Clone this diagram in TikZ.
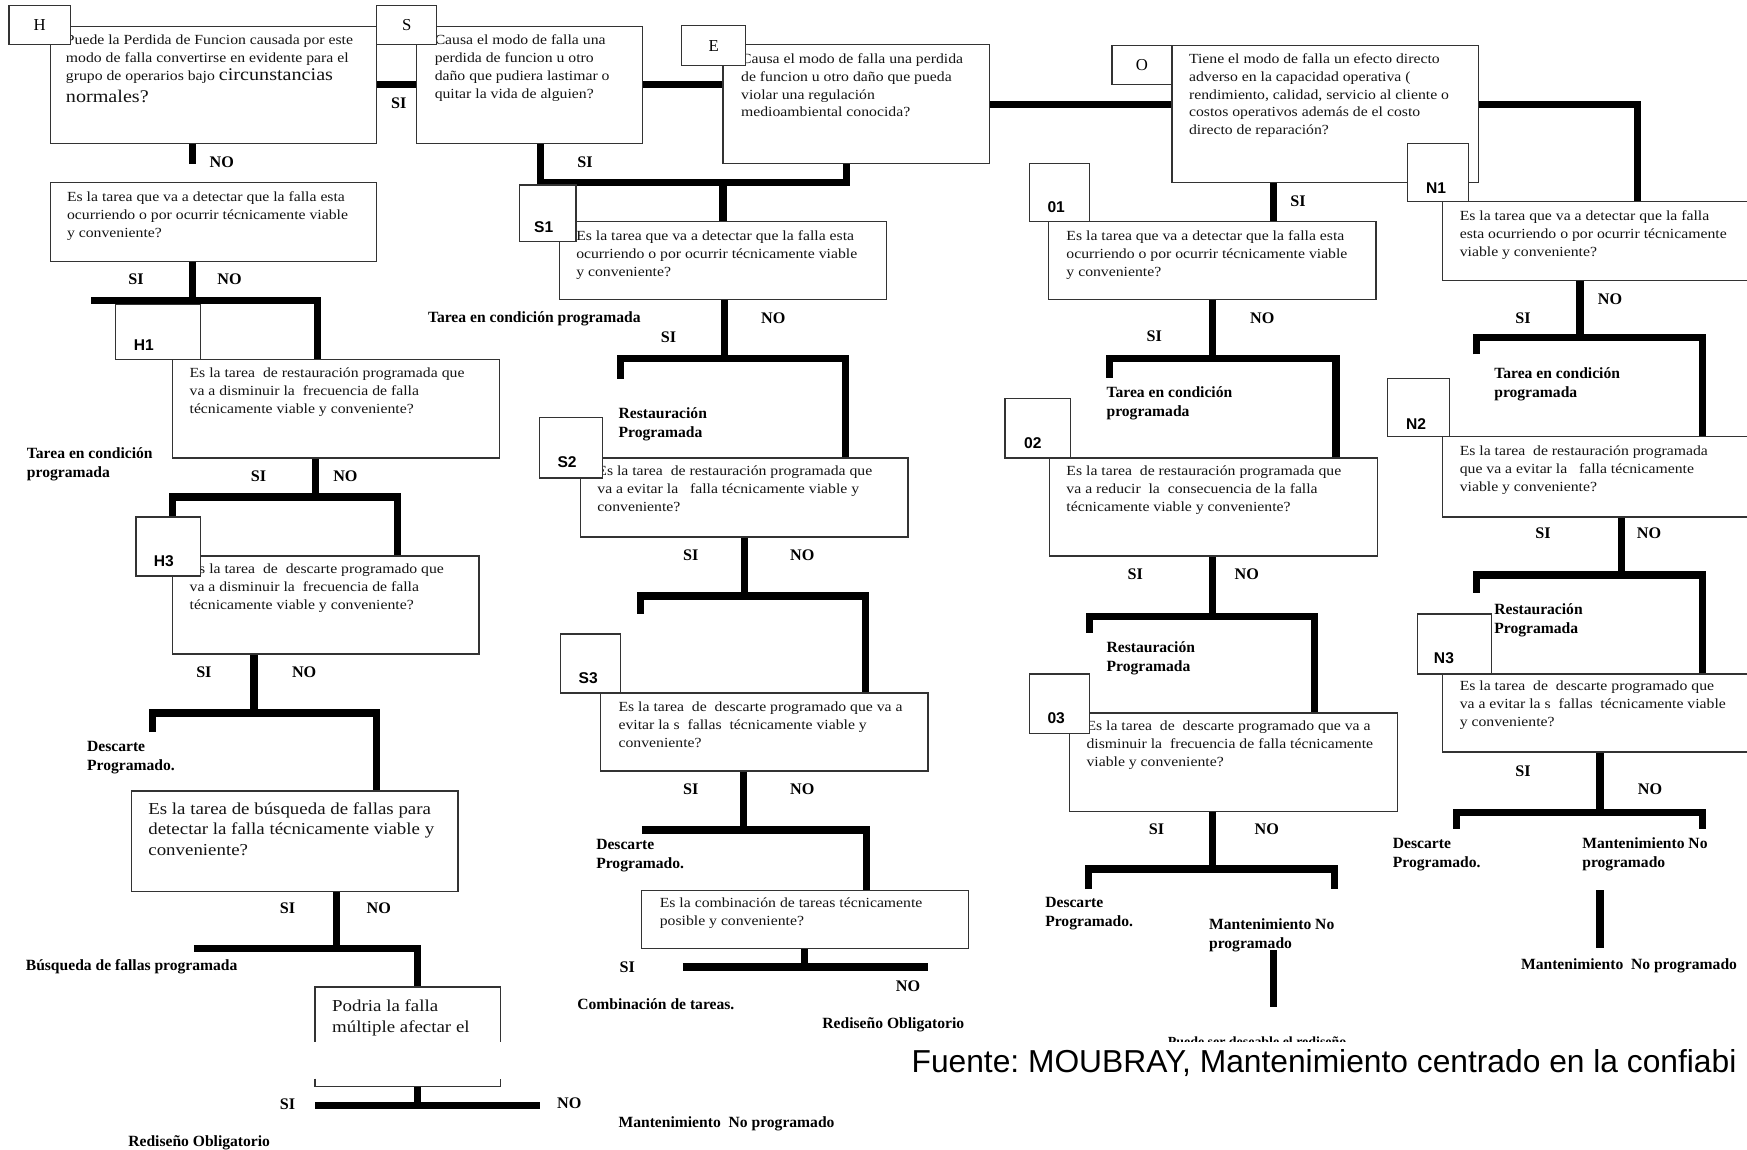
\documentclass[tikz,border=0pt]{standalone}
\usepackage{fontspec}
\setmainfont{Liberation Serif}
\newfontfamily\qf{Liberation Serif}[FakeStretch=1.13]
\newfontfamily\tagfont{Liberation Sans}
\usetikzlibrary{fit}
\pgfdeclarelayer{bg}
\pgfsetlayers{bg,main}
\frenchspacing
\tikzset{
  qbox/.style={draw=black!80, line width=1.1pt, fill=white, inner sep=0pt},
  bar/.style={line width=6.5pt, line cap=butt, line join=miter},
  qtext/.style={anchor=north west, inner sep=0pt, align=left, text=black!92,
     font=\qf\fontsize{12.5}{16}\selectfont, execute at begin node={\rule{0pt}{11pt}}},
  bigq/.style={qtext, font=\qf\fontsize{15}{18.5}\selectfont},
  otext/.style={anchor=north west, inner sep=0pt, align=left,
     font=\rmfamily\bfseries\fontsize{14}{17}\selectfont, execute at begin node={\rule{0pt}{11pt}}},
  yn/.style={inner sep=0pt, font=\rmfamily\bfseries\fontsize{14.5}{17}\selectfont},
  tag/.style={inner sep=0pt, font=\tagfont\bfseries\fontsize{14}{17}\selectfont},
  letter/.style={inner sep=0pt, font=\rmfamily\fontsize{15}{18}\selectfont},
}
\begin{document}
\begin{tikzpicture}[x=1pt,y=-1pt]
\useasboundingbox (0,0) rectangle (1568,1032);

% ---------- question boxes ----------
\node[qbox, fit={(45,24) (338,129)}] (hq) {};
\node[qbox, fit={(374,24) (577,129)}] (sq) {};
\node[qbox, fit={(649,40) (888,147)}] (eq) {};
\node[qbox, fit={(1052,41) (1327,164)}] (oq) {};
\node[qbox, fit={(45,164) (338,235)}] (hdq) {};
\node[qbox, fit={(502,199) (796,269)}] (s1q) {};
\node[qbox, fit={(941,199) (1235,269)}] (o1q) {};
\node[qbox, fit={(1295,181) (1569,252)}] (n1q) {};
\node[qbox, fit={(155,323) (448,411)}] (h1q) {};
\node[qbox, fit={(521,411) (815,482)}] (s2q) {};
\node[qbox, fit={(942,411) (1236,499)}] (o2q) {};
\node[qbox, fit={(1295,392) (1569,464)}] (n2q) {};
\node[qbox, fit={(155,499) (430,587)}] (h3q) {};
\node[qbox, fit={(539,622) (833,692)}] (s3q) {};
\node[qbox, fit={(960,640) (1254,728)}] (o3q) {};
\node[qbox, fit={(1295,605) (1569,675)}] (n3q) {};
\node[qbox, fit={(118,710) (411,800)}] (bq) {};
\node[qbox, fit={(576,799) (869,851)}] (cq) {};
\node[inner sep=0pt, fit={(283,886) (449,975)}] (pq) {};
\draw[draw=black!80, line width=1.1pt] (pq.west|-0,935) -- (pq.north west) -- (pq.north east) -- (pq.east|-0,935);
\draw[draw=black!80, line width=1.1pt] (pq.west|-0,968) -- (pq.south west) -- (pq.south east) -- (pq.east|-0,968);

% ---------- connectors ----------
\begin{pgfonlayer}{bg}
\fill[white] (0,0) rectangle (1568,1032);
\draw[bar] (hq.east|-0,76) -- (sq.west|-0,76);
\draw[bar] (sq.east|-0,76) -- (eq.west|-0,76);
\draw[bar] (eq.east|-0,94) -- (oq.west|-0,94);
\draw[bar] (oq.east|-0,94) -- (1470,94) -- (1470,0|-n1q.north);
% H column
\coordinate (hnoend) at (173,147);
\draw[bar] (hq.south-|hnoend) -- (hnoend);
\draw[bar] (hdq.south-|173,0) -- (173,270) coordinate (jhd);
\draw[bar] (82,270) -- (285,270) -- (285,0|-h1q.north);
\draw[bar] (h1q.south-|283,0) -- (283,446);
\draw[bar] (155,464) -- (155,446) -- (357,446) -- (357,0|-h3q.north);
\draw[bar] (h3q.south-|228,0) -- (228,640);
\draw[bar] (137,657) -- (137,640) -- (338,640) -- (338,0|-bq.north);
\draw[bar] (bq.south-|302,0) -- (302,851);
\draw[bar] (174,851) -- (375,851) -- (375,0|-pq.north);
\draw[bar] (pq.south-|375,0) -- (375,992);
\draw[bar] (283,992) -- (485,992);
% S column
\draw[bar] (sq.south-|485,0) -- (485,164) -- (760,164) -- (760,0|-eq.south);
\draw[bar] (649,164) -- (649,0|-s1q.north);
\draw[bar] (s1q.south-|650,0) -- (650,322);
\draw[bar] (557,340) -- (557,322) -- (759,322) -- (759,0|-s2q.north);
\draw[bar] (s2q.south-|668,0) -- (668,535);
\draw[bar] (575,551) -- (575,535) -- (777,535) -- (777,0|-s3q.north);
\draw[bar] (s3q.south-|667,0) -- (667,745);
\draw[bar] (576,745) -- (778,745) -- (778,0|-cq.north);
\draw[bar] (cq.south-|722,0) -- (722,868);
\draw[bar] (613,868) -- (833,868);
% O column
\draw[bar] (oq.south-|1143,0) -- (1143,0|-o1q.north);
\draw[bar] (o1q.south-|1088,0) -- (1088,322);
\draw[bar] (996,339) -- (996,322) -- (1199,322) -- (1199,0|-o2q.north);
\draw[bar] (o2q.south-|1088,0) -- (1088,553);
\draw[bar] (978,568) -- (978,553) -- (1180,553) -- (1180,0|-o3q.north);
\draw[bar] (o3q.south-|1088,0) -- (1088,780);
\draw[bar] (977,798) -- (977,780) -- (1198,780) -- (1198,798);
\draw[bar] (1143,853) -- (1143,904);
% N column
\draw[bar] (n1q.south-|1418,0) -- (1418,303);
\draw[bar] (1325,318) -- (1325,303) -- (1528,303) -- (1528,0|-n2q.north);
\draw[bar] (n2q.south-|1455,0) -- (1455,516);
\draw[bar] (1325,532) -- (1325,516) -- (1528,516) -- (1528,0|-n3q.north);
\draw[bar] (n3q.south-|1436,0) -- (1436,729);
\draw[bar] (1307,744) -- (1307,729) -- (1528,729) -- (1528,744);
\draw[bar] (1436,799) -- (1436,851);
\end{pgfonlayer}

% ---------- question texts ----------
\node[qtext] (hqt) at (59,31) {Puede la Perdida de Funcion causada por este\\modo de falla convertirse en evidente para el\\grupo de operarios bajo {\fontsize{16}{16}\selectfont circunstancias}\\[4pt]{\fontsize{16}{16}\selectfont normales?}};
\node[qtext] (sqt) at (390,31) {Causa el modo de falla una\\perdida de funcion u otro\\daño que pudiera lastimar o\\quitar la vida de alguien?};
\node[qtext] (eqt) at (665,48) {Causa el modo de falla una perdida\\de funcion u otro daño que pueda\\violar una regulación\\medioambiental conocida?};
\node[qtext] (oqt) at (1067,48) {Tiene el modo de falla un efecto directo\\adverso en la capacidad operativa (\\rendimiento, calidad, servicio al cliente o\\costos operativos además de el costo\\directo de reparación?};
\node[qtext] (hdqt) at (60,172) {Es la tarea que va a detectar que la falla esta\\ocurriendo o por ocurrir técnicamente viable\\y conveniente?};
\node[qtext] (s1qt) at (517,207) {Es la tarea que va a detectar que la falla esta\\ocurriendo o por ocurrir técnicamente viable\\y conveniente?};
\node[qtext] (o1qt) at (957,207) {Es la tarea que va a detectar que la falla esta\\ocurriendo o por ocurrir técnicamente viable\\y conveniente?};
\node[qtext] (n1qt) at (1310,189) {Es la tarea que va a detectar que la falla\\esta ocurriendo o por ocurrir técnicamente\\viable y conveniente?};
\node[qtext] (h1qt) at (170,330) {Es la tarea~ de restauración programada que\\va a disminuir la~ frecuencia de falla\\técnicamente viable y conveniente?};
\node[qtext] (s2qt) at (536,418) {Es la tarea~ de restauración programada que\\va a evitar la~~ falla técnicamente viable y\\conveniente?};
\node[qtext] (o2qt) at (957,418) {Es la tarea~ de restauración programada que\\va a reducir~ la~ consecuencia de la falla\\técnicamente viable y conveniente?};
\node[qtext] (n2qt) at (1310,400) {Es la tarea~ de restauración programada\\que va a evitar la~~ falla técnicamente\\viable y conveniente?};
\node[qtext] (h3qt) at (170,506) {Es la tarea~ de~ descarte programado que\\va a disminuir la~ frecuencia de falla\\técnicamente viable y conveniente?};
\node[qtext] (s3qt) at (555,630) {Es la tarea~ de~ descarte programado que va a\\evitar la s~ fallas~ técnicamente viable y\\conveniente?};
\node[qtext] (o3qt) at (975,647) {Es la tarea~ de~ descarte programado que va a\\disminuir la~ frecuencia de falla técnicamente\\viable y conveniente?};
\node[qtext] (n3qt) at (1310,611) {Es la tarea~ de~ descarte programado que\\va a evitar la s~ fallas~ técnicamente viable\\y conveniente?};
\node[bigq] (bqt) at (133,720) {Es la tarea de búsqueda de fallas para\\detectar la falla técnicamente viable y\\conveniente?};
\node[qtext] (cqt) at (592,806) {Es la combinación de tareas técnicamente\\posible y conveniente?};
\node[bigq] (pqt) at (298,897) {Podria la falla\\múltiple afectar el};

% ---------- label boxes ----------
\node[qbox, fit={(8,5) (63,40)}] (hl) {};
\node[qbox, fit={(338,5) (392,40)}] (sl) {};
\node[qbox, fit={(612,23) (669,59)}] (el) {};
\node[qbox, fit={(998,41) (1052,76)}] (ol) {};
\node[letter] (hlt) at (hl.center) {H};
\node[letter] (slt) at (sl.center) {S};
\node[letter] (elt) at (el.center) {E};
\node[letter] (olt) at (ol.center) {O};
\node[qbox, fit={(104,273) (180,323)}] (h1l) {};
\node[qbox, fit={(122,464) (180,517)}] (h3l) {};
\node[qbox, fit={(466,166) (517,217)}] (s1l) {};
\node[qbox, fit={(484,375) (541,429)}] (s2l) {};
\node[qbox, fit={(503,569) (557,622)}] (s3l) {};
\node[qbox, fit={(924,147) (978,199)}] (o1l) {};
\node[qbox, fit={(902,358) (961,411)}] (o2l) {};
\node[qbox, fit={(924,605) (978,658)}] (o3l) {};
\node[qbox, fit={(1263,129) (1318,181)}] (n1l) {};
\node[qbox, fit={(1245,340) (1301,392)}] (n2l) {};
\node[qbox, fit={(1272,551) (1339,605)}] (n3l) {};
\node[tag] (h1t) at (129,310) {H1};
\node[tag] (h3t) at (147,504) {H3};
\node[tag] (s1t) at (488,204) {S1};
\node[tag] (s2t) at (509,415) {S2};
\node[tag] (s3t) at (528,609) {S3};
\node[tag] (o1t) at (948,186) {01};
\node[tag] (o2t) at (927,398) {02};
\node[tag] (o3t) at (948,645) {03};
\node[tag] (n1t) at (1289,169) {N1};
\node[tag] (n2t) at (1271,381) {N2};
\node[tag] (n3t) at (1296,591) {N3};

% ---------- SI / NO ----------
\node[yn] (y1) at (358,93) {SI};
\node[yn] (y2) at (199,146) {NO};
\node[yn] (y3) at (525,146) {SI};
\node[yn] (y4) at (122,251) {SI};
\node[yn] (y5) at (206,251) {NO};
\node[yn] (y6) at (1165,181) {SI};
\node[yn] (y7) at (600,303) {SI};
\node[yn] (y8) at (694,286) {NO};
\node[yn] (y9) at (1036,302) {SI};
\node[yn] (y10) at (1133,286) {NO};
\node[yn] (y11) at (1367,286) {SI};
\node[yn] (y12) at (1445,269) {NO};
\node[yn] (y13) at (232,427) {SI};
\node[yn] (y14) at (310,427) {NO};
\node[yn] (y15) at (620,498) {SI};
\node[yn] (y16) at (720,498) {NO};
\node[yn] (y17) at (1019,515) {SI};
\node[yn] (y18) at (1119,515) {NO};
\node[yn] (y19) at (1385,479) {SI};
\node[yn] (y20) at (1480,479) {NO};
\node[yn] (y21) at (183,603) {SI};
\node[yn] (y22) at (273,603) {NO};
\node[yn] (y23) at (620,708) {SI};
\node[yn] (y24) at (720,708) {NO};
\node[yn] (y25) at (1038,744) {SI};
\node[yn] (y26) at (1137,744) {NO};
\node[yn] (y27) at (1367,692) {SI};
\node[yn] (y28) at (1481,708) {NO};
\node[yn] (y29) at (258,815) {SI};
\node[yn] (y30) at (340,815) {NO};
\node[yn] (y31) at (563,868) {SI};
\node[yn] (y32) at (815,885) {NO};
\node[yn] (y33) at (258,991) {SI};
\node[yn] (y34) at (511,990) {NO};

% ---------- outcomes ----------
\node[otext] (r1) at (24,402) {Tarea en condición\\programada};
\node[otext] (r2) at (384,278) {Tarea en condición programada};
\node[otext] (r3) at (555,366) {Restauración\\Programada};
\node[otext] (r4) at (993,347) {Tarea en condición\\programada};
\node[otext] (r5) at (1341,330) {Tarea en condición\\programada};
\node[otext] (r6) at (78,665) {Descarte\\Programado.};
\node[otext] (r7) at (993,576) {Restauración\\Programada};
\node[otext] (r8) at (1341,542) {Restauración\\Programada};
\node[otext] (r9) at (535,753) {Descarte\\Programado.};
\node[otext] (r10) at (23,860) {Búsqueda de fallas programada};
\node[otext] (r11) at (518,895) {Combinación de tareas.};
\node[otext] (r12) at (738,912) {Rediseño Obligatorio};
\node[otext] (r13) at (938,805) {Descarte\\Programado.};
\node[otext] (r14) at (1085,824) {Mantenimiento No\\programado};
\node[otext] (r15) at (1250,752) {Descarte\\Programado.};
\node[otext] (r16) at (1420,752) {Mantenimiento No\\programado};
\node[otext] (r17) at (1365,859) {Mantenimiento~ No programado};
\node[otext] (r18) at (555,1001) {Mantenimiento~ No programado};
\node[otext] (r19) at (115,1018) {Rediseño Obligatorio};
\begin{scope}
\clip (1000,900) rectangle (1300,935);
\node[otext, font=\rmfamily\bfseries\fontsize{12.5}{15}\selectfont] (r20) at (1048,928) {Puede ser deseable el rediseño};
\end{scope}

\node[anchor=base west, inner sep=0pt, font=\tagfont\fontsize{28.5}{30}\selectfont] (fuente) at (818,963) {Fuente: MOUBRAY, Mantenimiento centrado en la confiabi};
\end{tikzpicture}
\end{document}
